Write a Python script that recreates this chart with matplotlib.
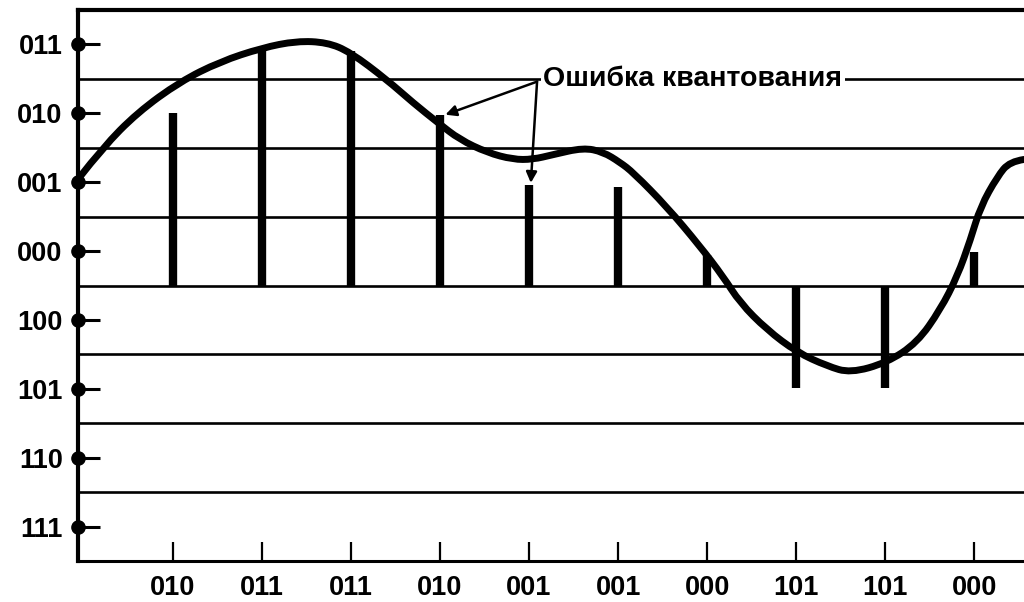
import matplotlib
import matplotlib.pyplot as plt
from matplotlib.patches import PathPatch
from matplotlib.path import Path

matplotlib.use("Agg")
plt.rcParams["font.family"] = ["Liberation Sans", "DejaVu Sans"]
plt.rcParams["font.weight"] = "bold"

# quantisation levels (y) and their codes
level_codes = ["011", "010", "001", "000", "100", "101", "110", "111"]
level_pos = [3.5, 2.5, 1.5, 0.5, -0.5, -1.5, -2.5, -3.5]
level_bounds = [3, 2, 1, 0, -1, -2, -3]

# samples: position, code, drawn bar height
sample_pos = [1, 2, 3, 4, 5, 6, 7, 8, 9, 10]
sample_codes = ["010", "011", "011", "010", "001", "001", "000", "101", "101", "000"]
sample_heights = [2.5, 3.45, 3.4, 2.48, 1.46, 1.43, 0.45, -1.49, -1.49, 0.49]

# analog signal
curve_t = [-0.05, 0.21, 0.60, 1.08, 1.53, 2.00, 2.39, 2.73, 2.99, 3.40, 3.70, 3.98,
           4.22, 4.53, 4.82, 5.04, 5.27, 5.61, 5.83, 6.02, 6.17, 6.55, 6.92, 7.18,
           7.37, 7.67, 8.01, 8.35, 8.61, 9.02, 9.36, 9.62, 9.81, 9.96, 10.07, 10.26,
           10.40, 10.56]
curve_v = [1.57, 2.00, 2.51, 2.96, 3.25, 3.45, 3.55, 3.53, 3.39, 2.99, 2.65, 2.36,
           2.12, 1.93, 1.83, 1.83, 1.90, 2.00, 1.94, 1.79, 1.64, 1.14, 0.57, 0.13,
           -0.25, -0.64, -0.97, -1.17, -1.27, -1.12, -0.83, -0.35, 0.13, 0.67, 1.14,
           1.58, 1.80, 1.83]

label_text = "Ошибка квантования"
label_xy = (6.84, 3.0)
arrow_from = (5.09, 2.96)
arrow_targets = [(4.06, 2.48), (5.02, 1.49)]


def smooth_path(xs, ys):
    # quadratic bezier through midpoints, read points used as control points
    pts = list(zip(xs, ys))
    verts = [pts[0]]
    codes = [Path.MOVETO]
    for i in range(1, len(pts) - 1):
        if i == len(pts) - 2:
            end = pts[-1]
        else:
            end = ((pts[i][0] + pts[i + 1][0]) / 2, (pts[i][1] + pts[i + 1][1]) / 2)
        verts += [pts[i], end]
        codes += [Path.CURVE3, Path.CURVE3]
    return Path(verts, codes)


fig = plt.figure(figsize=(10.24, 6.02), dpi=100)
ax = fig.add_axes([78 / 1024, 1 - 561 / 602, 1 - 78 / 1024, (561 - 10) / 602])
x0 = -0.067
ax.set_xlim(x0, 10.56)
ax.set_ylim(-4, 4)

for b in level_bounds:
    ax.axhline(b, color="black", lw=1.9, zorder=1)

ax.vlines(sample_pos, 0, sample_heights, color="black", lw=6, capstyle="butt", zorder=2)
ax.add_patch(PathPatch(smooth_path(curve_t, curve_v), facecolor="none", edgecolor="black",
                       lw=5, capstyle="round", joinstyle="round", zorder=3))

ax.plot([x0] * len(level_pos), level_pos, "o", color="black", ms=9.5, clip_on=False, zorder=6)

ax.spines["right"].set_visible(False)
ax.spines["left"].set_linewidth(3)
ax.spines["top"].set_linewidth(3)
ax.spines["bottom"].set_linewidth(2.2)

ax.set_yticks(level_pos, level_codes)
ax.set_xticks(sample_pos, sample_codes)
ax.tick_params(axis="y", direction="in", length=16, width=2.2, pad=11, labelsize=19.5)
ax.tick_params(axis="x", direction="in", length=14, width=1.6, pad=10, labelsize=19.5)

ax.text(label_xy[0], label_xy[1], label_text, ha="center", va="center", fontsize=20.5,
        bbox=dict(facecolor="white", edgecolor="none", pad=2), zorder=5)
for tgt in arrow_targets:
    ax.annotate("", xy=tgt, xytext=arrow_from,
                arrowprops=dict(arrowstyle="-|>", color="black", lw=1.8,
                                mutation_scale=16, shrinkA=0, shrinkB=0),
                zorder=5)

fig.savefig("out.png", dpi=100)
